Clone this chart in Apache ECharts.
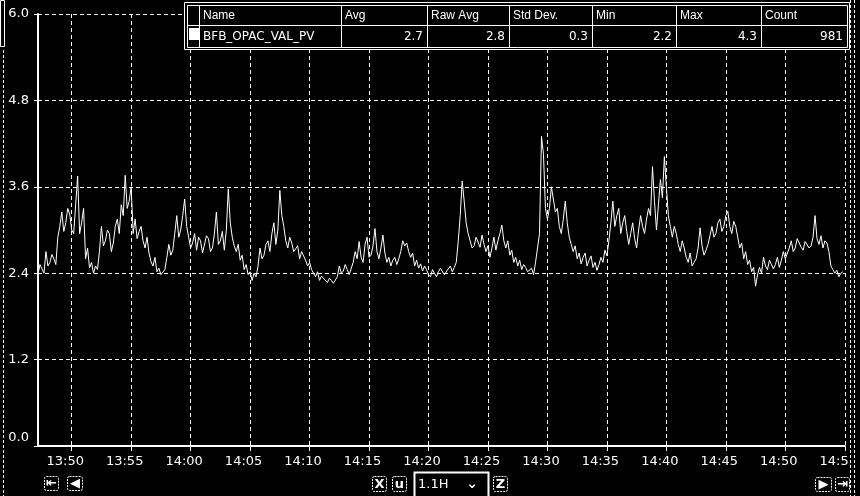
<!DOCTYPE html>
<html>
<head>
<meta charset="utf-8">
<script src="https://cdn.jsdelivr.net/npm/echarts@6/dist/echarts.min.js"></script>
<style>
  html, body { margin: 0; padding: 0; background: #000; }
  #chart { width: 860px; height: 496px; }
</style>
</head>
<body>
<div id="chart"></div>
<script>
// Trend window (hh, mm, ss) and sampling of the opacity tag
const windowStart = [13, 47, 10];
const windowEnd = [14, 55, 0];
const sampleStart = [13, 47, 10];
const sampleStepSeconds = 10;

// Time-axis labels, every five minutes
const timeTicks = ['13:50', '13:55', '14:00', '14:05', '14:10', '14:15', '14:20',
  '14:25', '14:30', '14:35', '14:40', '14:45', '14:50', '14:55'];

// BFB_OPAC_VAL_PV samples, one every 10 s
const opacityValues = [
  2.38, 2.52, 2.46, 2.40, 2.70, 2.50, 2.55, 2.66, 2.60, 2.52,
  2.90, 3.05, 3.25, 2.98, 3.10, 3.30, 3.22, 3.00, 2.95, 3.35,
  3.75, 2.95, 3.10, 3.30, 2.60, 2.75, 2.47, 2.55, 2.40, 2.50,
  2.45, 2.70, 3.05, 2.78, 2.85, 3.00, 2.95, 2.70, 2.82, 3.05,
  3.15, 2.95, 3.35, 3.20, 3.76, 3.30, 3.40, 3.60, 2.95, 3.15,
  2.88, 2.98, 3.05, 2.85, 2.75, 2.90, 2.68, 2.56, 2.50, 2.62,
  2.42, 2.47, 2.38, 2.36, 2.45, 2.62, 2.80, 2.65, 2.72, 2.95,
  3.20, 2.90, 3.00, 3.20, 3.43, 3.05, 2.90, 2.75, 2.82, 2.95,
  2.72, 2.90, 2.85, 2.68, 2.70, 2.92, 2.88, 2.70, 2.75, 2.95,
  3.25, 2.80, 2.85, 2.98, 2.72, 3.00, 3.57, 3.10, 2.90, 2.78,
  2.70, 2.80, 2.58, 2.65, 2.45, 2.52, 2.38, 2.42, 2.30, 2.40,
  2.35, 2.50, 2.75, 2.60, 2.65, 2.80, 2.85, 2.70, 2.95, 3.10,
  2.80, 3.00, 3.55, 3.20, 3.05, 2.85, 2.75, 2.90, 2.82, 2.70,
  2.68, 2.78, 2.60, 2.70, 2.72, 2.58, 2.50, 2.55, 2.45, 2.40,
  2.35, 2.42, 2.30, 2.36, 2.38, 2.30, 2.27, 2.33, 2.30, 2.26,
  2.25, 2.35, 2.50, 2.40, 2.43, 2.52, 2.45, 2.38, 2.40, 2.55,
  2.70, 2.60, 2.84, 2.62, 2.55, 2.80, 2.90, 2.62, 2.65, 2.78,
  3.02, 2.70, 2.60, 2.75, 2.93, 2.68, 2.55, 2.62, 2.50, 2.58,
  2.62, 2.52, 2.60, 2.70, 2.85, 2.78, 2.82, 2.70, 2.62, 2.68,
  2.50, 2.58, 2.47, 2.53, 2.43, 2.50, 2.45, 2.38, 2.35, 2.45,
  2.40, 2.35, 2.42, 2.47, 2.45, 2.38, 2.40, 2.46, 2.50, 2.42,
  2.48, 2.55, 2.84, 3.20, 3.68, 3.40, 3.10, 2.95, 2.85, 2.75,
  2.78, 2.90, 2.88, 2.76, 2.93, 2.80, 2.70, 2.78, 2.62, 2.75,
  2.90, 2.72, 2.85, 2.95, 3.07, 2.85, 2.75, 2.85, 2.65, 2.72,
  2.55, 2.62, 2.50, 2.58, 2.45, 2.52, 2.48, 2.42, 2.40, 2.47,
  2.38, 2.55, 2.75, 2.95, 4.30, 4.05, 3.30, 3.15, 3.30, 3.60,
  3.62, 3.25, 3.30, 3.05, 2.95, 3.15, 3.40, 3.10, 2.90, 2.80,
  2.70, 2.78, 2.60, 2.68, 2.53, 2.62, 2.68, 2.50, 2.58, 2.64,
  2.48, 2.55, 2.44, 2.52, 2.62, 2.55, 2.72, 2.64, 2.85, 3.10,
  3.40, 3.05, 3.20, 3.30, 2.95, 3.10, 3.20, 2.98, 2.80, 2.95,
  3.10, 2.88, 2.75, 3.00, 3.20, 3.05, 2.95, 3.15, 3.30, 3.20,
  3.88, 3.40, 3.00, 3.35, 3.70, 3.45, 4.02, 3.60, 3.20, 3.05,
  2.90, 3.05, 2.95, 2.80, 2.70, 2.85, 2.75, 2.62, 2.55, 2.68,
  2.50, 2.55, 2.60, 2.75, 3.03, 2.78, 2.65, 2.72, 2.80, 2.92,
  3.05, 2.90, 2.95, 3.10, 3.15, 2.98, 3.05, 3.20, 3.26, 3.05,
  2.95, 3.12, 3.05, 2.90, 2.75, 2.82, 2.60, 2.70, 2.52, 2.58,
  2.42, 2.48, 2.22, 2.38, 2.48, 2.40, 2.62, 2.50, 2.45, 2.58,
  2.60, 2.46, 2.52, 2.62, 2.48, 2.58, 2.70, 2.60, 2.62, 2.75,
  2.85, 2.70, 2.75, 2.88, 2.90, 2.76, 2.72, 2.84, 2.85, 2.75,
  2.78, 2.90, 3.20, 2.88, 2.80, 2.92, 2.75, 2.85, 2.82, 2.70,
  2.50, 2.45, 2.40, 2.44, 2.35, 2.40, 2.42
];

// Value axis range
const yMin = 0;
const yMax = 6;
const yStep = 1.2;

// Statistics table
const tableHeaders = ['Name', 'Avg', 'Raw Avg', 'Std Dev.', 'Min', 'Max', 'Count'];
const tableRow = ['BFB_OPAC_VAL_PV', '2.7', '2.8', '0.3', '2.2', '4.3', '981'];
const rangeText = '1.1H';

// seconds of the day, so the x axis is a plain value axis in seconds
function secs(hms) { return hms[0] * 3600 + hms[1] * 60 + (hms[2] || 0); }
function parseClock(s) { const p = s.split(':'); return secs([+p[0], +p[1], 0]); }
function pad(n) { return (n < 10 ? '0' : '') + n; }
function fmtClock(v) {
  const h = Math.floor(v / 3600), m = Math.floor((v % 3600) / 60);
  return pad(h) + ':' + pad(m);
}

const s0 = secs(sampleStart);
const seriesData = opacityValues.map((v, i) => [s0 + i * sampleStepSeconds, v]);
const tickSeconds = timeTicks.map(parseClock);

const chart = echarts.init(document.getElementById('chart'), null, { renderer: 'canvas' });

// table geometry
const colEdges = [187, 199, 341, 427, 509, 592, 676, 761, 847];
const rowTop = 5, rowMid = 25, rowBottom = 47;
const Z = 100;
const white = '#ffffff';
const tableEls = [];
tableEls.push({ type: 'rect', z: Z, shape: { x: colEdges[0] - 2.5, y: rowTop - 2.5, width: colEdges[8] - colEdges[0] + 5, height: rowBottom - rowTop + 5 },
  style: { fill: '#000', stroke: white, lineWidth: 1 } });
tableEls.push({ type: 'rect', z: Z, shape: { x: colEdges[0] + 0.5, y: rowTop + 0.5, width: colEdges[8] - colEdges[0], height: rowBottom - rowTop },
  style: { fill: '#000', stroke: white, lineWidth: 1 } });
tableEls.push({ type: 'line', z: Z, shape: { x1: colEdges[0], y1: rowMid + 0.5, x2: colEdges[8], y2: rowMid + 0.5 }, style: { stroke: white, lineWidth: 1 } });
for (let c = 1; c < colEdges.length - 1; c++) {
  tableEls.push({ type: 'line', z: Z, shape: { x1: colEdges[c] + 0.5, y1: rowTop, x2: colEdges[c] + 0.5, y2: rowBottom }, style: { stroke: white, lineWidth: 1 } });
}
// colour swatch of the pen
tableEls.push({ type: 'rect', z: Z, shape: { x: colEdges[0] + 2, y: rowMid + 3, width: 10, height: 12 }, style: { fill: white } });
tableHeaders.forEach((h, i) => {
  tableEls.push({ type: 'text', z: Z, x: colEdges[i + 1] + 4, y: (rowTop + rowMid) / 2 + 1,
    style: { text: h, fill: white, font: '12px "Liberation Sans", Arial, sans-serif', verticalAlign: 'middle', align: 'left' } });
});
tableRow.forEach((v, i) => {
  const left = i === 0;
  tableEls.push({ type: 'text', z: Z,
    x: left ? colEdges[1] + 4 : colEdges[i + 2] - 4,
    y: (rowMid + rowBottom) / 2 + 1,
    style: { text: v, fill: white, font: '12px "DejaVu Sans", sans-serif', verticalAlign: 'middle', align: left ? 'left' : 'right' } });
});

// window frame and toolbar
const frameEls = [
  { type: 'rect', z: Z, shape: { x: 850, y: 0, width: 10, height: 496 }, style: { fill: '#000' } },
  { type: 'line', z: Z, shape: { x1: 850.5, y1: 0, x2: 850.5, y2: 496 }, style: { stroke: white, lineWidth: 1, lineDash: [3, 2] } },
  { type: 'line', z: Z, shape: { x1: 854.5, y1: 0, x2: 854.5, y2: 496 }, style: { stroke: white, lineWidth: 1, lineDash: [3, 2] } },
  { type: 'line', z: Z, shape: { x1: 3.5, y1: 50, x2: 3.5, y2: 496 }, style: { stroke: white, lineWidth: 1, lineDash: [3, 2] } },
  { type: 'rect', z: Z, shape: { x: 0.5, y: 0.5, width: 4, height: 46 }, style: { fill: 'none', stroke: white, lineWidth: 1 } }
];
function iconBox(x, y, w, h, label) {
  return [
    { type: 'rect', z: Z, shape: { x: x + 0.5, y: y + 0.5, width: w, height: h, r: 2 }, style: { fill: '#000', stroke: white, lineWidth: 1, lineDash: [2, 1] } },
    { type: 'text', z: Z, x: x + w / 2 + 0.5, y: y + h / 2 + 1, style: { text: label, fill: white, font: 'bold 13px "DejaVu Sans", sans-serif', align: 'center', verticalAlign: 'middle' } }
  ];
}
const toolbarEls = [].concat(
  iconBox(44, 476, 14, 14, '\u21E4'),
  iconBox(67, 476, 15, 14, '\u25C0'),
  iconBox(372, 476, 14, 15, 'X'),
  iconBox(392, 476, 14, 15, 'u'),
  iconBox(493, 476, 14, 15, 'Z'),
  iconBox(815, 477, 16, 14, '\u25B6'),
  iconBox(835, 477, 14, 14, '\u21E5'),
  [
    { type: 'rect', z: Z, shape: { x: 414.5, y: 472.5, width: 74, height: 30 }, style: { fill: '#000', stroke: white, lineWidth: 2 } },
    { type: 'text', z: Z, x: 418, y: 485, style: { text: rangeText, fill: white, font: '13px "DejaVu Sans", sans-serif', verticalAlign: 'middle' } },
    { type: 'text', z: Z, x: 472, y: 484, style: { text: '\u2304', fill: white, font: 'bold 14px "DejaVu Sans", sans-serif', align: 'center', verticalAlign: 'middle' } }
  ]
);

const dashed = { color: white, width: 1, type: [4, 3] };

chart.setOption({
  backgroundColor: '#000',
  animation: false,
  grid: { left: 38, right: 12, top: 14, bottom: 50, containLabel: false },
  xAxis: {
    type: 'value',
    min: secs(windowStart),
    max: secs(windowEnd),
    axisLine: { show: true, onZero: false, lineStyle: { color: white, width: 2 } },
    axisTick: { show: true, length: 5, lineStyle: { color: white }, customValues: tickSeconds },
    axisLabel: {
      color: white, fontSize: 13, fontFamily: '"DejaVu Sans", sans-serif', margin: 9,
      padding: [0, 13, 0, 0],
      customValues: tickSeconds,
      formatter: fmtClock
    },
    splitLine: { show: true, lineStyle: dashed }
  },
  yAxis: {
    type: 'value',
    min: yMin, max: yMax, interval: yStep,
    axisLine: { show: true, lineStyle: { color: white, width: 2 } },
    axisTick: { show: true, length: 4, lineStyle: { color: white } },
    axisLabel: {
      color: white, fontSize: 13, fontFamily: '"DejaVu Sans", sans-serif', margin: 9,
      formatter: v => (v === yMin ? '{low|' + v.toFixed(1) + '}' : v.toFixed(1)),
      rich: { low: { color: white, fontSize: 13, fontFamily: '"DejaVu Sans", sans-serif', padding: [0, 0, 16, 0] } }
    },
    splitLine: { show: true, lineStyle: dashed }
  },
  series: [{
    name: 'BFB_OPAC_VAL_PV',
    type: 'line',
    data: seriesData,
    showSymbol: false,
    lineStyle: { color: white, width: 1 },
    itemStyle: { color: white }
  }],
  graphic: { elements: tableEls.concat(frameEls, toolbarEls) }
});
</script>
</body>
</html>
